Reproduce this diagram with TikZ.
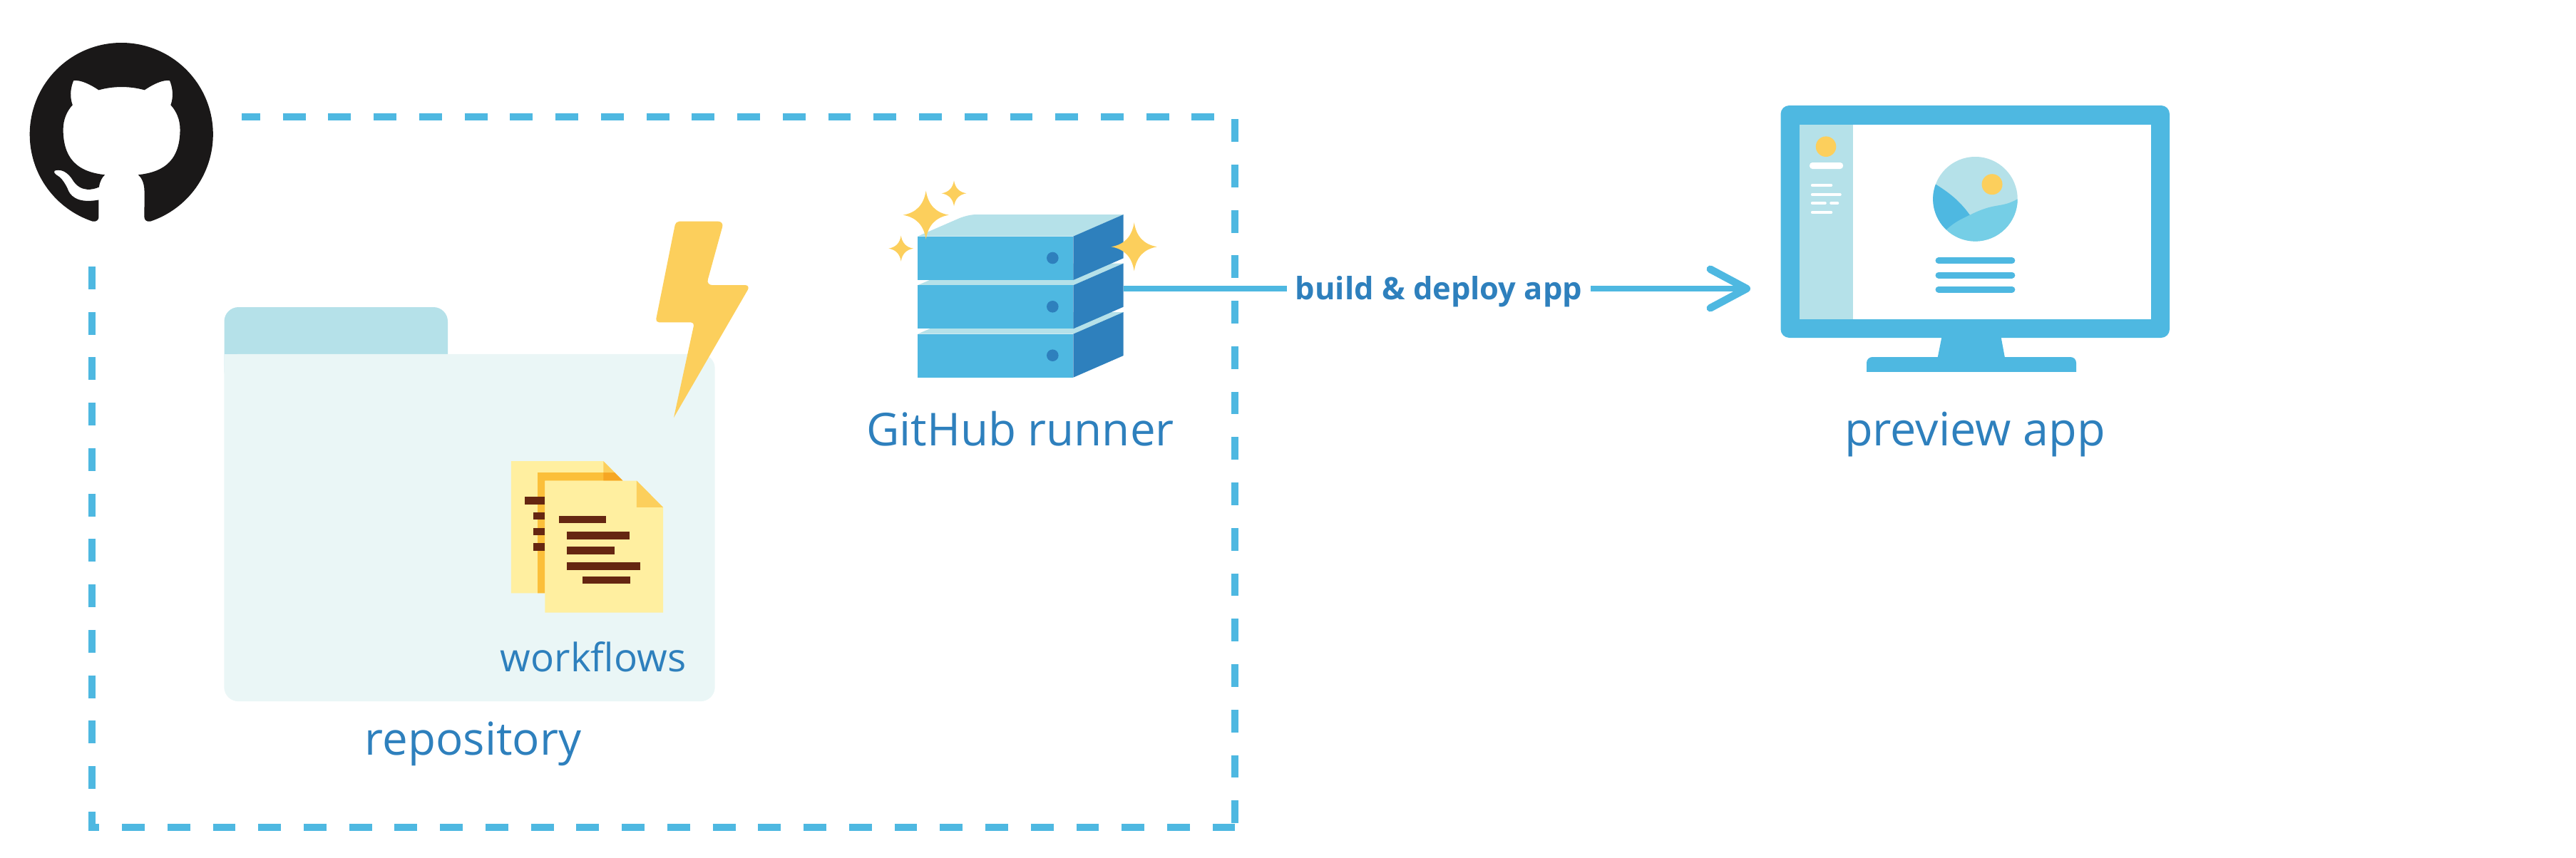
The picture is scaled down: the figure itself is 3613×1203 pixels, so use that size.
\documentclass[tikz,border=0pt]{standalone}
\usepackage{fontspec}
\setmainfont{Open Sans}
\usetikzlibrary{positioning,arrows.meta,svg.path}
\definecolor{skyblue}{RGB}{78,184,225}
\definecolor{deepblue}{RGB}{46,128,189}
\definecolor{paleblue}{RGB}{181,225,233}
\definecolor{hillblue}{RGB}{117,206,230}
\definecolor{folderpale}{RGB}{234,246,246}
\definecolor{boltyellow}{RGB}{252,207,92}
\definecolor{paperyellow}{RGB}{255,239,160}
\definecolor{shadeorange}{RGB}{251,191,58}
\definecolor{foldorange}{RGB}{246,166,35}
\definecolor{inkbrown}{RGB}{101,38,17}
\definecolor{catblack}{RGB}{26,24,24}
\newcommand{\sparkle}[4]{\fill[boltyellow] (#1,#2-#4)
  .. controls (#1+0.1*#3,#2-0.42*#4) and (#1+0.42*#3,#2-0.1*#4) .. (#1+#3,#2)
  .. controls (#1+0.42*#3,#2+0.1*#4) and (#1+0.1*#3,#2+0.42*#4) .. (#1,#2+#4)
  .. controls (#1-0.1*#3,#2+0.42*#4) and (#1-0.42*#3,#2+0.1*#4) .. (#1-#3,#2)
  .. controls (#1-0.42*#3,#2-0.1*#4) and (#1-0.1*#3,#2-0.42*#4) .. cycle;}
\tikzset{
  caption/.style={text=deepblue, font=\fontsize{18.1}{20}\selectfont, inner sep=0pt},
  boxline/.style={draw=skyblue, line width=0.1cm, dash pattern=on 0.3185cm off 0.3185cm},
  textbar/.style={line cap=round, line width=0.09cm, draw=skyblue},
  menubar/.style={line cap=round, line width=0.045cm, draw=white},
  inkbar/.style={fill=inkbrown},
  folderbody/.style={fill=folderpale, rounded corners=0.2cm, minimum width=6.88cm,
    minimum height=4.87cm, inner sep=0pt},
}
\begin{document}
\begin{tikzpicture}[x=0.01cm, y=-0.01cm]
  \useasboundingbox (0,0) rectangle (3613,1203);

  % dashed frame
  \draw[boxline, dash phase=0.06cm] (339,164) -- (1732,164) -- (1732,1155);
  \draw[boxline] (129,374) -- (129,1160.5) -- (1732,1160.5);

  % github mark
  \begin{scope}[shift={(41.7,60)}, scale=4.57, yscale=-1]
    \fill[catblack] svg {M 8 0 C 3.58 0 0 3.58 0 8 c 0 3.54 2.29 6.53 5.47 7.59 .4 .07 .55 -.17 .55 -.38 0 -.19 -.01 -.82 -.01 -1.49 -2.01 .37 -2.53 -.49 -2.69 -.94 -.09 -.23 -.48 -.94 -.82 -1.13 -.28 -.15 -.68 -.52 -.01 -.53 .63 -.01 1.08 .58 1.23 .82 .72 1.21 1.87 .87 2.33 .66 .07 -.52 .28 -.87 .51 -1.07 -1.78 -.2 -3.64 -.89 -3.64 -3.95 0 -.87 .31 -1.59 .82 -2.15 -.08 -.2 -.36 -1.02 .08 -2.12 0 0 .67 -.21 2.2 .82 .64 -.18 1.32 -.27 2 -.27 .68 0 1.36 .09 2 .27 1.53 -1.04 2.2 -.82 2.2 -.82 .44 1.1 .16 1.92 .08 2.12 .51 .56 .82 1.28 .82 2.15 0 3.07 -1.87 3.75 -3.65 3.95 .29 .25 .54 .73 .54 1.48 0 1.07 -.01 1.93 -.01 2.2 0 .21 .15 .46 .55 .38 A 8.013 8.013 0 0 0 16 8 c 0 -4.42 -3.58 -8 -8 -8 z};
  \end{scope}

  % folder
  \fill[paleblue, rounded corners=0.2cm] (314.5,431) rectangle (628,540);
  \node[folderbody] (folder) at (658.5,740.5) {};
  \fill[folderpale] (314.5,497) rectangle (360,560);
  \node[caption, below=0.27cm of folder, xshift=0.05cm] (repolabel) {repository};

  % bolt
  \fill[boltyellow, rounded corners=0.08cm] (947.7,310.7) -- (1015.3,310.7) -- (990.7,400)
    -- (1052.7,400) [sharp corners] -- (945,586) [rounded corners=0.05cm] -- (974,452.3)
    -- (919.3,452.3) -- cycle;

  % papers
  \fill[paperyellow] (716.9,647.2) -- (846.3,647.2) -- (873.4,674.5) -- (873.4,832.4) -- (716.9,832.4) -- cycle;
  \fill[shadeorange] (754,663) -- (862,663) -- (873.4,674.5) -- (764.4,674.5) -- (764.4,832.4) -- (754,832.4) -- cycle;
  \fill[foldorange] (846.3,663) -- (862,663) -- (873.4,674.5) -- (846.3,674.5) -- cycle;
  \fill[boltyellow] (846.3,647.2) -- (862,663) -- (846.3,663) -- cycle;
  \fill[inkbrown] (736.3,697) rectangle (764.4,707.5);
  \foreach \ya in {718.8,740.5,762}
    \fill[inkbrown] (747.9,\ya) rectangle (764.4,\ya+10.5);
  \fill[paperyellow] (764.4,674.5) -- (892.8,674.5) -- (930,711.8) -- (930,859.7) -- (764.4,859.7) -- cycle;
  \fill[boltyellow] (892.8,674.5) -- (930,711.8) -- (892.8,711.8) -- cycle;
  \fill[inkbar] (783.8,724) rectangle (850,734.4);
  \fill[inkbar] (795.4,745.7) rectangle (883,756.5);
  \fill[inkbar] (795.4,767.4) rectangle (861.8,778.2);
  \fill[inkbar] (795.4,789) rectangle (898,800);
  \fill[inkbar] (817.2,808.6) rectangle (883.6,819.4);
  \node[caption, font=\fontsize{15.6}{18}\selectfont, anchor=base] (flowlabel) at (832,942) {workflows};

  % connector
  \coordinate (server) at (1575.7,405);
  \coordinate (screen) at (2455,405);
  \node[text=deepblue, font=\fontsize{12.35}{14}\selectfont\bfseries, inner ysep=0pt, inner xsep=3.2pt,
    text height=8.53pt, text depth=0pt] (deploylabel) at (2018,405) {build \& deploy app};
  \draw[skyblue, line width=0.083cm] (server) -- (deploylabel);
  \draw[skyblue, line width=0.083cm, -{Straight Barb[length=14.5pt,width=15.5pt,line width=0.105cm,round]}]
    (deploylabel) -- (screen);

  % server
  \foreach \yb in {468.7,400.3} {
    \fill[paleblue] (1287,\yb) -- (1357.4,\yb-30.7) -- (1575.7,\yb-30.7) -- (1505.3,\yb) -- cycle;
    \fill[deepblue] (1505.3,\yb) -- (1575.7,\yb-30.7) -- (1575.7,\yb+30.3) -- (1505.3,\yb+61) -- cycle;
    \fill[skyblue] (1287,\yb) rectangle (1505.3,\yb+61);
    \fill[deepblue] (1476.3,\yb+30) circle (8.3);
  }
  \fill[paleblue] (1287,331.7) -- (1346,306) .. controls (1354,303) and (1362,301) .. (1370,301)
    -- (1575.7,301) -- (1505.3,331.7) -- cycle;
  \fill[deepblue] (1505.3,331.7) -- (1575.7,301) -- (1575.7,362.3) -- (1505.3,393) -- cycle;
  \fill[skyblue] (1287,331.7) rectangle (1505.3,393);
  \fill[deepblue] (1476.3,362) circle (8.3);
  \sparkle{1298.7}{301.7}{32}{34}
  \sparkle{1338}{271.3}{17.3}{18}
  \sparkle{1263.7}{348.7}{17.3}{18}
  \sparkle{1590.7}{346.3}{32}{34}
  \node[caption, anchor=base] (runnerlabel) at (1431,625) {GitHub runner};

  % monitor
  \fill[skyblue, rounded corners=0.12cm] (2497.5,148) rectangle (3043,474);
  \fill[skyblue] (2724,470) -- (2806,470) -- (2812.5,505) -- (2717,505) -- cycle;
  \fill[skyblue, rounded corners=0.08cm] (2618,501) rectangle (2912,535);
  \fill[white] (2610,522) rectangle (2920,540);
  \fill[white] (2523.6,175) rectangle (3017,448);
  \fill[paleblue] (2523.6,175) rectangle (2599,448);
  \fill[boltyellow] (2561,205.7) circle (14.3);
  \fill[white, rounded corners=0.04cm] (2538,228) rectangle (2585,237);
  \draw[menubar] (2542,260) -- (2568,260);
  \draw[menubar] (2542,273) -- (2580.5,273);
  \draw[menubar] (2542,285) -- (2559.5,285);
  \draw[menubar] (2568.4,285) -- (2577,285);
  \draw[menubar] (2542,298) -- (2568,298);
  \begin{scope}
    \clip (2770.4,279.3) circle (59.3);
    \fill[paleblue] (2700,210) rectangle (2840,350);
    \fill[skyblue] (2700,250) -- (2714.5,258.3) .. controls (2733,270) and (2748,281) .. (2762.8,301.7)
      -- (2730,322.3) -- (2700,350) -- cycle;
    \fill[hillblue] (2730,322.3) .. controls (2742,311) and (2752,307) .. (2762.8,301.7)
      .. controls (2800,283) and (2805,293) .. (2829.7,279.3) -- (2840,350) -- (2720,350) -- cycle;
  \end{scope}
  \fill[boltyellow] (2794,258.7) circle (14.5);
  \foreach \yc in {365.8,386,406.2}
    \draw[textbar] (2719,\yc) -- (2821.8,\yc);
  \node[caption, font=\fontsize{18.4}{20}\selectfont, anchor=base] (previewlabel) at (2770,625) {preview app};
\end{tikzpicture}
\end{document}
